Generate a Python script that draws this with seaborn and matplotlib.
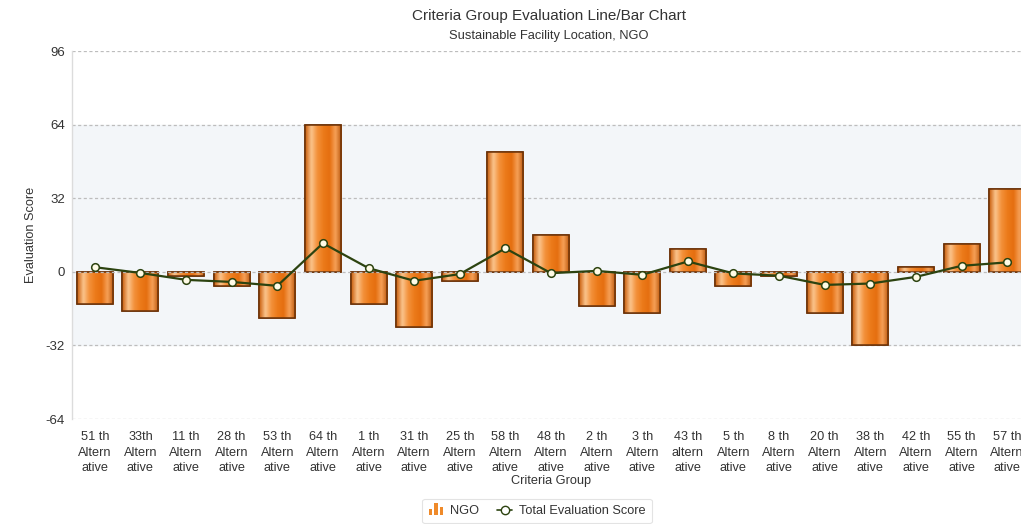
import numpy as np
import pandas as pd
import matplotlib
matplotlib.use("Agg")
import matplotlib.pyplot as plt
from matplotlib.colors import LinearSegmentedColormap
from matplotlib.lines import Line2D
from matplotlib.patches import Rectangle
from matplotlib.legend_handler import HandlerBase
import seaborn as sns

# --- data -------------------------------------------------------------
categories = [
    "51 th\nAltern\native", "33th\nAltern\native", "11 th\nAltern\native",
    "28 th\nAltern\native", "53 th\nAltern\native", "64 th\nAltern\native",
    "1 th\nAltern\native", "31 th\nAltern\native", "25 th\nAltern\native",
    "58 th\nAltern\native", "48 th\nAltern\native", "2 th\nAltern\native",
    "3 th\nAltern\native", "43 th\naltern\native", "5 th\nAltern\native",
    "8 th\nAltern\native", "20 th\nAltern\native", "38 th\nAltern\native",
    "42 th\nAltern\native", "55 th\nAltern\native", "57 th\nAltern\native",
]
ngo_scores = [-14, -17, -2, -6, -20, 64, -14, -24, -4, 52, 16,
              -15, -18, 10, -6, -2, -18, -32, 2, 12, 36]
total_scores = [2, -0.5, -3.5, -4.4, -6.1, 12.4, 1.6, -3.9, -1, 10.2, -0.6,
                0.4, -1.3, 4.5, -0.7, -1.7, -5.7, -5.1, -2.2, 2.6, 4.1]
y_ticks = [-64, -32, 0, 32, 64, 96]

df = pd.DataFrame({"group": categories, "NGO": ngo_scores,
                   "Total Evaluation Score": total_scores})

# --- styling ----------------------------------------------------------
sns.set_theme(style="white")
plt.rcParams["font.family"] = ["Liberation Sans", "DejaVu Sans"]
text_col = "#333333"

W, H = 1021, 524
fig = plt.figure(figsize=(W / 100, H / 100), dpi=100)
ax = fig.add_axes([72 / W, 1 - 419 / H, (1030 - 72) / W, (419 - 51) / H])

bar_orange = "#ef7d1f"
edge_brown = "#6b3208"

sns.barplot(data=df, x="group", y="NGO", color=bar_orange, width=0.79,
            edgecolor=edge_brown, linewidth=1.1, saturation=1, ax=ax, zorder=3)

# horizontal shading inside each bar
grad = LinearSegmentedColormap.from_list(
    "bar", ["#c95e0c", "#fbc48c", "#f3913a", "#ec7a1a", "#e56f10", "#f6a057", "#b9550a"])
g = np.linspace(0, 1, 64).reshape(1, -1)
for p in ax.patches:
    x0, y0 = p.get_x(), p.get_y()
    w, h = p.get_width(), p.get_height()
    ylo, yhi = min(y0, y0 + h), max(y0, y0 + h)
    im = ax.imshow(g, cmap=grad, aspect="auto", extent=(x0, x0 + w, ylo, yhi),
                   zorder=3.1, interpolation="bicubic")
    im.set_clip_path(p)
    ax.add_patch(Rectangle((x0, ylo), w, yhi - ylo, fill=False,
                           edgecolor=edge_brown, linewidth=1.1, zorder=3.2))

line_col = "#2c4310"
sns.lineplot(data=df, x="group", y="Total Evaluation Score", sort=False,
             color=line_col, linewidth=1.6, marker="o", markersize=5.5,
             markerfacecolor="#fffbe6", markeredgecolor=line_col,
             markeredgewidth=1.1, ax=ax, zorder=5)

ax.set_xlim(-0.5, len(categories) - 0.5)
ax.set_ylim(-64, 96)
ax.set_yticks(y_ticks)
ax.set_yticklabels([str(v) for v in y_ticks], fontsize=9.5, color=text_col)
ax.tick_params(axis="x", labelsize=9.2, colors=text_col, length=0, pad=9)
ax.tick_params(axis="y", length=0, pad=5)
for lab in ax.get_xticklabels():
    lab.set_linespacing(1.35)

# banded background and dashed grid
ax.set_facecolor("white")
ax.axhspan(-32, 64, color="#f3f6f9", zorder=0)
for v in y_ticks:
    ax.axhline(v, color="#bdbdbd", linewidth=0.9, linestyle=(0, (2.5, 2)),
               zorder=1 if v != 0 else 4)

for s in ["top", "right", "bottom"]:
    ax.spines[s].set_visible(False)
ax.spines["left"].set_color("#dcdcdc")
ax.spines["left"].set_linewidth(1)

ax.set_xlabel("Criteria Group", fontsize=9.2, color=text_col, labelpad=1)
ax.set_ylabel("Evaluation Score", fontsize=9.2, color=text_col, labelpad=6)

fig.text(549 / W, 1 - 16 / H, "Criteria Group Evaluation Line/Bar Chart",
         ha="center", va="center", fontsize=11, color=text_col)
fig.text(549 / W, 1 - 36 / H, "Sustainable Facility Location, NGO",
         ha="center", va="center", fontsize=9.3, color=text_col)


class BarIconHandler(HandlerBase):
    """Small three-bar column-chart icon for the legend."""

    def create_artists(self, legend, orig_handle, xdescent, ydescent,
                       width, height, fontsize, trans):
        arts = []
        bw = width / 4.0
        base = -ydescent - height * 0.15
        for i, frac in enumerate([0.7, 1.35, 0.95]):
            r = Rectangle((-xdescent + i * bw * 1.45, base), bw,
                          height * frac, facecolor="#ef8a2a",
                          edgecolor="none", transform=trans)
            arts.append(r)
        return arts


bar_icon = Rectangle((0, 0), 1, 1)
handles = [
    bar_icon,
    Line2D([], [], color=line_col, marker="o", markersize=6,
           markerfacecolor="white", markeredgecolor=line_col, linewidth=1.2),
]
leg = fig.legend(handles, ["NGO", "Total Evaluation Score"], loc="center",
                 bbox_to_anchor=(537 / W, 1 - 511 / H), ncol=2, frameon=True,
                 fontsize=9.2, handlelength=1.2, handletextpad=0.5,
                 columnspacing=1.4, borderpad=0.5, fancybox=True,
                 handler_map={Rectangle: BarIconHandler()})
leg.get_frame().set_edgecolor("#dddddd")
leg.get_frame().set_linewidth(0.8)
for t in leg.get_texts():
    t.set_color(text_col)

fig.savefig("out.png", dpi=100, facecolor="white")
